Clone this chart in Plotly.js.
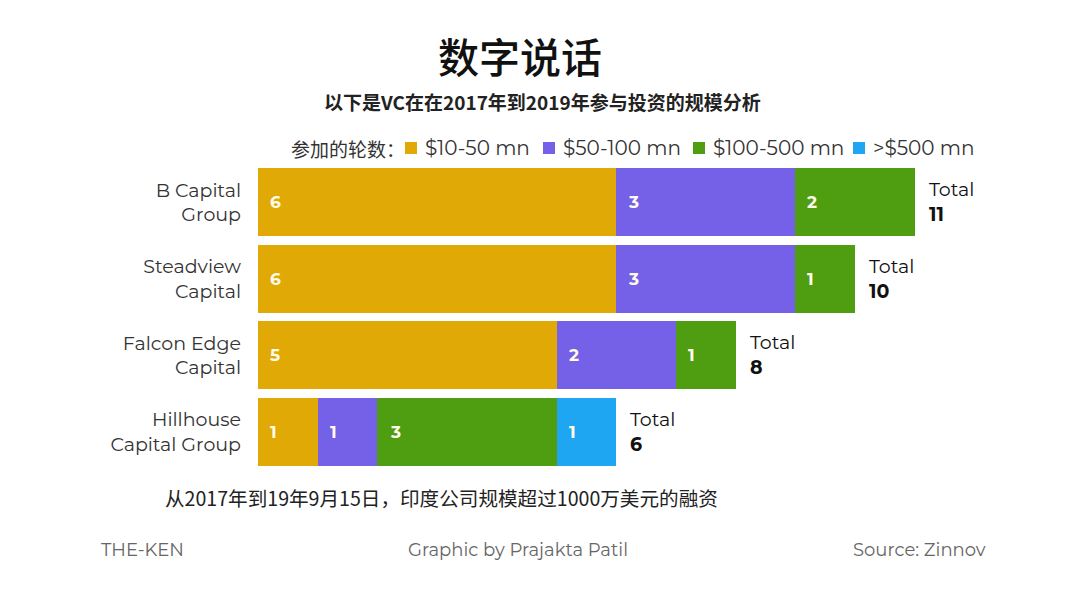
<!DOCTYPE html>
<html>
<head>
<meta charset="utf-8">
<script src="https://cdn.plot.ly/plotly-3.0.1.min.js"></script>
<style>html,body{margin:0;padding:0;background:#fff;}#chart{width:1080px;height:591px;}</style>
</head>
<body>
<div id="chart"></div>
<script>
// ---- data ----
const categories = ['B Capital<br>Group', 'Steadview<br>Capital', 'Falcon Edge<br>Capital', 'Hillhouse<br>Capital Group'];
const seriesNames = ['$10-50 mn', '$50-100 mn', '$100-500 mn', '>$500 mn'];
const rounds10to50 = [6, 6, 5, 1];
const rounds50to100 = [3, 3, 2, 1];
const rounds100to500 = [2, 1, 1, 3];
const roundsOver500 = [0, 0, 0, 1];
const seriesColors = ['#E1A906', '#7461E8', '#4F9E12', '#1FA6F3'];
const legendLabel = '参加的轮数：';
const titleText = '数字说话';
const subtitleText = '以下是VC在在2017年到2019年参与投资的规模分析';
const noteText = '从2017年到19年9月15日，印度公司规模超过1000万美元的融资';
const footerLeft = 'THE-KEN';
const footerMid = 'Graphic by Prajakta Patil';
const footerRight = 'Source: Zinnov';

const series = [rounds10to50, rounds50to100, rounds100to500, roundsOver500];
const totals = categories.map((_, i) => series.reduce((s, arr) => s + arr[i], 0));

const FONT = 'Montserrat, "Noto Sans", "Noto Sans CJK SC", sans-serif';
const CJK = '"Noto Sans CJK SC", sans-serif';

// layout geometry
const W = 1080, H = 591;
const M = {l: 258, r: 0, t: 164, b: 121};
const pw = W - M.l - M.r, ph = H - M.t - M.b;
const pxX = x => (x - M.l) / pw;
const pxY = y => (H - M.b - y) / ph;

const traces = series.map((vals, k) => ({
  type: 'bar',
  orientation: 'h',
  y: categories,
  x: vals,
  name: seriesNames[k],
  marker: {color: seriesColors[k], line: {width: 0}},
  width: 0.885,
  hoverinfo: 'x+name',
  showlegend: false
}));

const annotations = [];
const shapes = [];

// value labels inside segments
categories.forEach((c, i) => {
  let base = 0;
  series.forEach((vals, k) => {
    const v = vals[i];
    if (v > 0) {
      annotations.push({
        x: base + 0.17, y: c, xref: 'x', yref: 'y',
        text: '<b>' + v + '</b>', showarrow: false, xanchor: 'left', yanchor: 'middle',
        font: {family: FONT, size: 17, color: '#FFFBEA'}
      });
    }
    base += v;
  });
  annotations.push({
    x: totals[i] + 0.2, y: c, xref: 'x', yref: 'y',
    text: 'Total<br><b>' + totals[i] + '</b>', showarrow: false, xanchor: 'left', yanchor: 'middle', align: 'left',
    font: {family: FONT, size: 19, color: '#111'}
  });
});

// title, subtitle
annotations.push({x: pxX(520), y: pxY(55), xref: 'paper', yref: 'paper', text: titleText, showarrow: false,
  xanchor: 'center', yanchor: 'middle', font: {family: CJK, size: 41, color: '#111', weight: 500}});
annotations.push({x: pxX(542), y: pxY(101), xref: 'paper', yref: 'paper', text: '<b>' + subtitleText + '</b>', showarrow: false,
  xanchor: 'center', yanchor: 'middle', font: {family: CJK, size: 19, color: '#222'}});

// legend
annotations.push({x: pxX(289), y: pxY(148), xref: 'paper', yref: 'paper', text: legendLabel, showarrow: false,
  xanchor: 'left', yanchor: 'middle', font: {family: CJK, size: 19, color: '#333'}});
const legendX = [405, 543, 693, 853];
seriesNames.forEach((n, k) => {
  shapes.push({type: 'rect', xref: 'paper', yref: 'paper', x0: pxX(legendX[k]), x1: pxX(legendX[k] + 12),
    y0: pxY(154), y1: pxY(142), fillcolor: seriesColors[k], line: {width: 0}});
  annotations.push({x: pxX(legendX[k] + 18), y: pxY(148), xref: 'paper', yref: 'paper', text: n, showarrow: false,
    xanchor: 'left', yanchor: 'middle', font: {family: FONT, size: 20, color: '#333'}});
});

// note and footer
annotations.push({x: pxX(163), y: pxY(497), xref: 'paper', yref: 'paper', text: noteText, showarrow: false,
  xanchor: 'left', yanchor: 'middle', font: {family: CJK, size: 19.6, color: '#222'}});
annotations.push({x: pxX(99), y: pxY(550), xref: 'paper', yref: 'paper', text: footerLeft, showarrow: false,
  xanchor: 'left', yanchor: 'middle', font: {family: FONT, size: 18, color: '#666'}});
annotations.push({x: pxX(518), y: pxY(550), xref: 'paper', yref: 'paper', text: footerMid, showarrow: false,
  xanchor: 'center', yanchor: 'middle', font: {family: FONT, size: 18, color: '#666'}});
annotations.push({x: pxX(988), y: pxY(550), xref: 'paper', yref: 'paper', text: footerRight, showarrow: false,
  xanchor: 'right', yanchor: 'middle', font: {family: FONT, size: 18, color: '#666'}});

const layout = {
  width: W, height: H,
  margin: M,
  paper_bgcolor: '#fff', plot_bgcolor: '#fff',
  barmode: 'stack',
  bargap: 0,
  showlegend: false,
  xaxis: {range: [0, pw / 59.7], visible: false, fixedrange: true},
  yaxis: {autorange: 'reversed', showgrid: false, zeroline: false, showline: false, ticks: '',
    ticklabelstandoff: 16, tickfont: {family: FONT, size: 19, color: '#333'}, fixedrange: true},
  annotations: annotations,
  shapes: shapes
};

Plotly.newPlot('chart', traces, layout, {displayModeBar: false, staticPlot: true});
</script>
</body>
</html>
